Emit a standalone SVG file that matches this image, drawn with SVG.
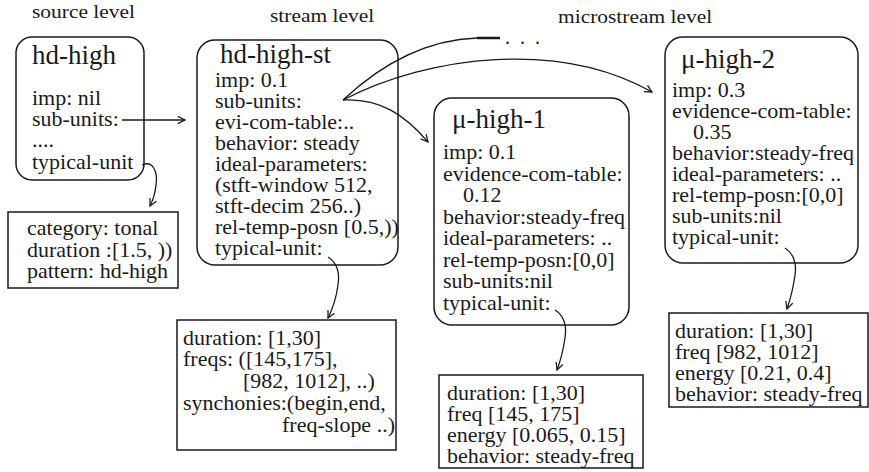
<svg xmlns="http://www.w3.org/2000/svg" width="869" height="472" viewBox="0 0 869 472">
<style>
text{font-family:"Liberation Serif","Times New Roman",serif;fill:#1a1a1a}
.lbl{font-size:19.5px}
.t{font-size:27px}
.b{font-size:20px}
.node{fill:#fff;stroke:#1a1a1a;stroke-width:1.5}
.c{fill:none;stroke:#1a1a1a;stroke-width:1.3}
</style>
<defs>
<marker id="ah" viewBox="0 0 10 10" refX="9" refY="5" markerWidth="9" markerHeight="9" markerUnits="userSpaceOnUse" orient="auto">
<path d="M1,1 L9,5 L1,9" fill="none" stroke="#1a1a1a" stroke-width="1.4"/>
</marker>
</defs>
<rect width="869" height="472" fill="#fff"/>
<g transform="translate(32 0) scale(1.1 1)"><text class="lbl" x="0" y="18.5">source level</text></g>
<g transform="translate(270 0) scale(1.1 1)"><text class="lbl" x="0" y="22">stream level</text></g>
<g transform="translate(558 0) scale(1.1 1)"><text class="lbl" x="0" y="23">microstream level</text></g>

<g id="hd-high">
<rect class="node" x="16" y="37" width="128" height="143" rx="16"/>
<text class="t" x="32" y="64">hd-high</text>
<g transform="translate(32 0) scale(1.1 1)">
<text class="b" x="0" y="105">imp: nil</text>
<text class="b" x="0" y="126">sub-units:</text>
<text class="b" x="0" y="147">....</text>
<text class="b" x="0" y="169">typical-unit</text>
</g>
</g>

<g id="hd-high-unit">
<rect class="node" x="8" y="212" width="170" height="76"/>
<g transform="translate(27 0) scale(1.1 1)">
<text class="b" x="0" y="235">category: tonal</text>
<text class="b" x="0" y="257">duration :[1.5, ))</text>
<text class="b" x="0" y="278">pattern: hd-high</text>
</g>
</g>

<g id="hd-high-st">
<rect class="node" x="197" y="40" width="201" height="225" rx="18"/>
<text class="t" x="220" y="63">hd-high-st</text>
<g transform="translate(215 0) scale(1.1 1)">
<text class="b" x="0" y="87">imp: 0.1</text>
<text class="b" x="0" y="108">sub-units:</text>
<text class="b" x="0" y="129">evi-com-table:..</text>
<text class="b" x="0" y="150">behavior: steady</text>
<text class="b" x="0" y="171">ideal-parameters:</text>
<text class="b" x="0" y="192">(stft-window 512,</text>
<text class="b" x="0" y="213">stft-decim 256..)</text>
<text class="b" x="0" y="234">rel-temp-posn [0.5,))</text>
<text class="b" x="0" y="255">typical-unit:</text>
</g>
</g>

<g id="hd-high-st-unit">
<rect class="node" x="177" y="320" width="219" height="130"/>
<g transform="translate(183 0) scale(1.1 1)">
<text class="b" x="0" y="345">duration: [1,30]</text>
<text class="b" x="0" y="366">freqs: ([145,175],</text>
<text class="b" x="54.5" y="388">[982, 1012], ..)</text>
<text class="b" x="0" y="410">synchonies:(begin,end,</text>
<text class="b" x="90" y="432">freq-slope ..)</text>
</g>
</g>

<g id="mu-high-1">
<rect class="node" x="434" y="98" width="195" height="227" rx="18"/>
<text class="t" x="452" y="128">μ-high-1</text>
<g transform="translate(443 0) scale(1.1 1)">
<text class="b" x="0" y="159">imp: 0.1</text>
<text class="b" x="0" y="181">evidence-com-table:</text>
<text class="b" x="18.2" y="202">0.12</text>
<text class="b" x="0" y="224">behavior:steady-freq</text>
<text class="b" x="0" y="245">ideal-parameters: ..</text>
<text class="b" x="0" y="267">rel-temp-posn:[0,0]</text>
<text class="b" x="0" y="288">sub-units:nil</text>
<text class="b" x="0" y="310">typical-unit:</text>
</g>
</g>

<g id="mu-high-1-unit">
<rect class="node" x="439" y="375" width="204" height="93"/>
<g transform="translate(447 0) scale(1.1 1)">
<text class="b" x="0" y="400">duration: [1,30]</text>
<text class="b" x="0" y="421">freq [145, 175]</text>
<text class="b" x="0" y="442">energy [0.065, 0.15]</text>
<text class="b" x="0" y="463">behavior: steady-freq</text>
</g>
</g>

<g id="mu-high-2">
<rect class="node" x="665" y="37" width="193" height="226" rx="18"/>
<text class="t" x="681" y="68">μ-high-2</text>
<g transform="translate(672 0) scale(1.1 1)">
<text class="b" x="0" y="97">imp: 0.3</text>
<text class="b" x="0" y="118">evidence-com-table:</text>
<text class="b" x="19.1" y="139">0.35</text>
<text class="b" x="0" y="160">behavior:steady-freq</text>
<text class="b" x="0" y="181">ideal-parameters: ..</text>
<text class="b" x="0" y="202">rel-temp-posn:[0,0]</text>
<text class="b" x="0" y="223">sub-units:nil</text>
<text class="b" x="0" y="244">typical-unit:</text>
</g>
</g>

<g id="mu-high-2-unit">
<rect class="node" x="669" y="313" width="199" height="94"/>
<g transform="translate(675 0) scale(1.1 1)">
<text class="b" x="0" y="338">duration: [1,30]</text>
<text class="b" x="0" y="359">freq [982, 1012]</text>
<text class="b" x="0" y="380">energy [0.21, 0.4]</text>
<text class="b" x="0" y="401">behavior: steady-freq</text>
</g>
</g>

<g id="connectors">
<path class="c" d="M122,120 L185,120" marker-end="url(#ah)"/>
<path class="c" d="M142,165 C153,160 158,172 156,185 C155,195 153,200 150,206" marker-end="url(#ah)"/>
<path class="c" d="M343,100 C380,98 405,115 428,142" marker-end="url(#ah)"/>
<path class="c" d="M343,100 C430,55 560,40 652,92" marker-end="url(#ah)"/>
<path class="c" d="M343,100 C375,70 420,40 477,38"/>
<path d="M477,38 L500,38" fill="none" stroke="#1a1a1a" stroke-width="2.5"/>
<text class="b" x="505 520 535" y="44">...</text>
<path class="c" d="M328,257 C336,262 340,272 338,285 C336,300 332,310 328,318" marker-end="url(#ah)"/>
<path class="c" d="M555,310 C563,315 567,325 565,338 C563,352 560,362 557,370" marker-end="url(#ah)"/>
<path class="c" d="M785,248 C793,253 797,263 795,275 C793,290 790,300 787,309" marker-end="url(#ah)"/>
</g>
</svg>
